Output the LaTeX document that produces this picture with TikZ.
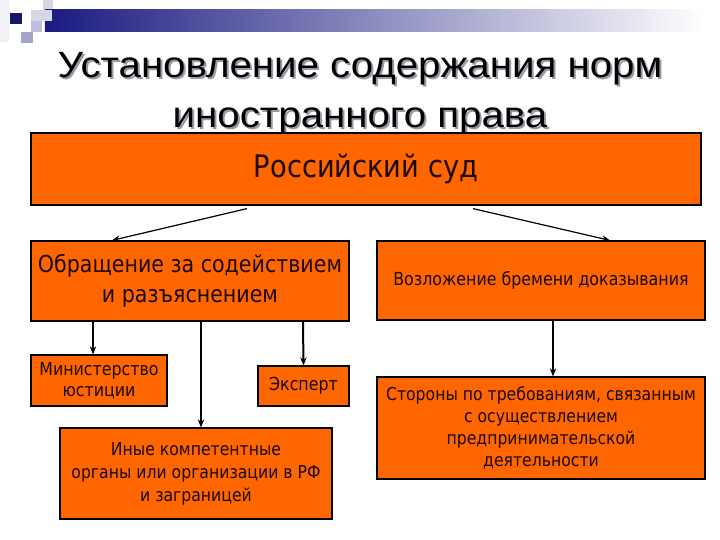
\documentclass[tikz,border=0pt]{standalone}
\usepackage{fontspec}
\setmainfont{Liberation Sans}
\newfontfamily\titlefont[FakeStretch=1.1]{Liberation Sans}
\newfontfamily\boxfont[FakeStretch=0.88]{DejaVu Sans}
\usetikzlibrary{arrows.meta,calc,positioning}
\definecolor{boxorange}{HTML}{FF6600}
\definecolor{navy}{HTML}{1A1A80}
\definecolor{lav}{HTML}{A4A4CA}
\definecolor{ink}{HTML}{1A0800}
\definecolor{shadowgray}{HTML}{9A9AA6}

\tikzset{
  box/.style={draw=black, line width=0.6pt, fill=boxorange, text=ink, align=center, inner sep=1pt},
  arr/.style={-{Stealth[length=4pt,width=3.2pt]}, line width=0.6pt},
  arrbold/.style={arr, line width=1pt},
  headline/.style={anchor=base, font=\titlefont\fontsize{18.3}{22}\selectfont},
}

\begin{document}
\begin{tikzpicture}[x=0.5pt,y=-0.5pt]
  \useasboundingbox (0,0) rectangle (720,540);
  \fill[white] (0,0) rectangle (720,540);
  % header strip
  \fill[navy!6] (0,0) rectangle (9,42);
  \fill[lav!45] (43,0) rectangle (53,10);
  \shade[left color=navy, right color=white] (45,10) rectangle (705,32);
  \fill[lav!45] (31,10) rectangle (52,21);
  \fill[lav!70] (31,21) rectangle (42,32);
  \fill[lav] (21,32) rectangle (33,43);
  \fill[navy!85!black] (10,13) rectangle (22,24);

  % title with shadow
  \node[headline, text=shadowgray] (title1s) at (362,80) {Установление содержания норм};
  \node[headline, text=shadowgray] (title2s) at (362,130) {иностранного права};
  \node[headline] (title1) at (360,78) {Установление содержания норм};
  \node[headline] (title2) at (360,128) {иностранного права};

  % boxes
  \node[box, minimum width=335pt, minimum height=36pt, font=\boxfont\fontsize{15.5}{18}\selectfont] (court) at (366,169) {Российский суд};
  \node[box, minimum width=159pt, minimum height=40pt, font=\boxfont\fontsize{11.7}{15}\selectfont] (help) at (190,281) {Обращение за содействием\\и разъяснением};
  \node[box, minimum width=164pt, minimum height=39.5pt, font=\boxfont\fontsize{9}{11}\selectfont] (burden) at (541,280.5) {Возложение бремени доказывания};
  \node[box, minimum width=68pt, minimum height=25.5pt, font=\boxfont\fontsize{9}{10.5}\selectfont] (ministry) at (99,380.5) {Министерство\\юстиции};
  \node[box, minimum width=45.5pt, minimum height=20pt, font=\boxfont\fontsize{9}{11}\selectfont] (expert) at (303.5,386) {Эксперт};
  \node[box, minimum width=136pt, minimum height=45.5pt, font=\boxfont\fontsize{8.9}{11.5}\selectfont] (organs) at (196,473.5) {Иные компетентные\\органы или организации в РФ\\и заграницей};
  \node[box, minimum width=164pt, minimum height=51pt, font=\boxfont\fontsize{8.9}{11}\selectfont] (parties) at (541,428) {Стороны по требованиям, связанным\\с осуществлением\\предпринимательской\\деятельности};

  % connectors
  \draw[arr] ($(court.south)+(-119,3)$) -- ($(help.north)+(-78,0)$);
  \draw[arr] ($(court.south)+(107,3)$) -- ($(burden.north)+(69,0)$);
  \draw[arr] ($(help.south)+(-97,0)$) -- ($(ministry.north)+(-6,0)$);
  \draw[arrbold] ($(help.south)+(11,0)$) -- ($(organs.north)+(5,0)$);
  \draw[arrbold] ($(help.south)+(113,0)$) -- (expert.north);
  \draw[arrbold] ($(burden.south)+(12,0)$) -- ($(parties.north)+(12,0)$);
\end{tikzpicture}
\end{document}
